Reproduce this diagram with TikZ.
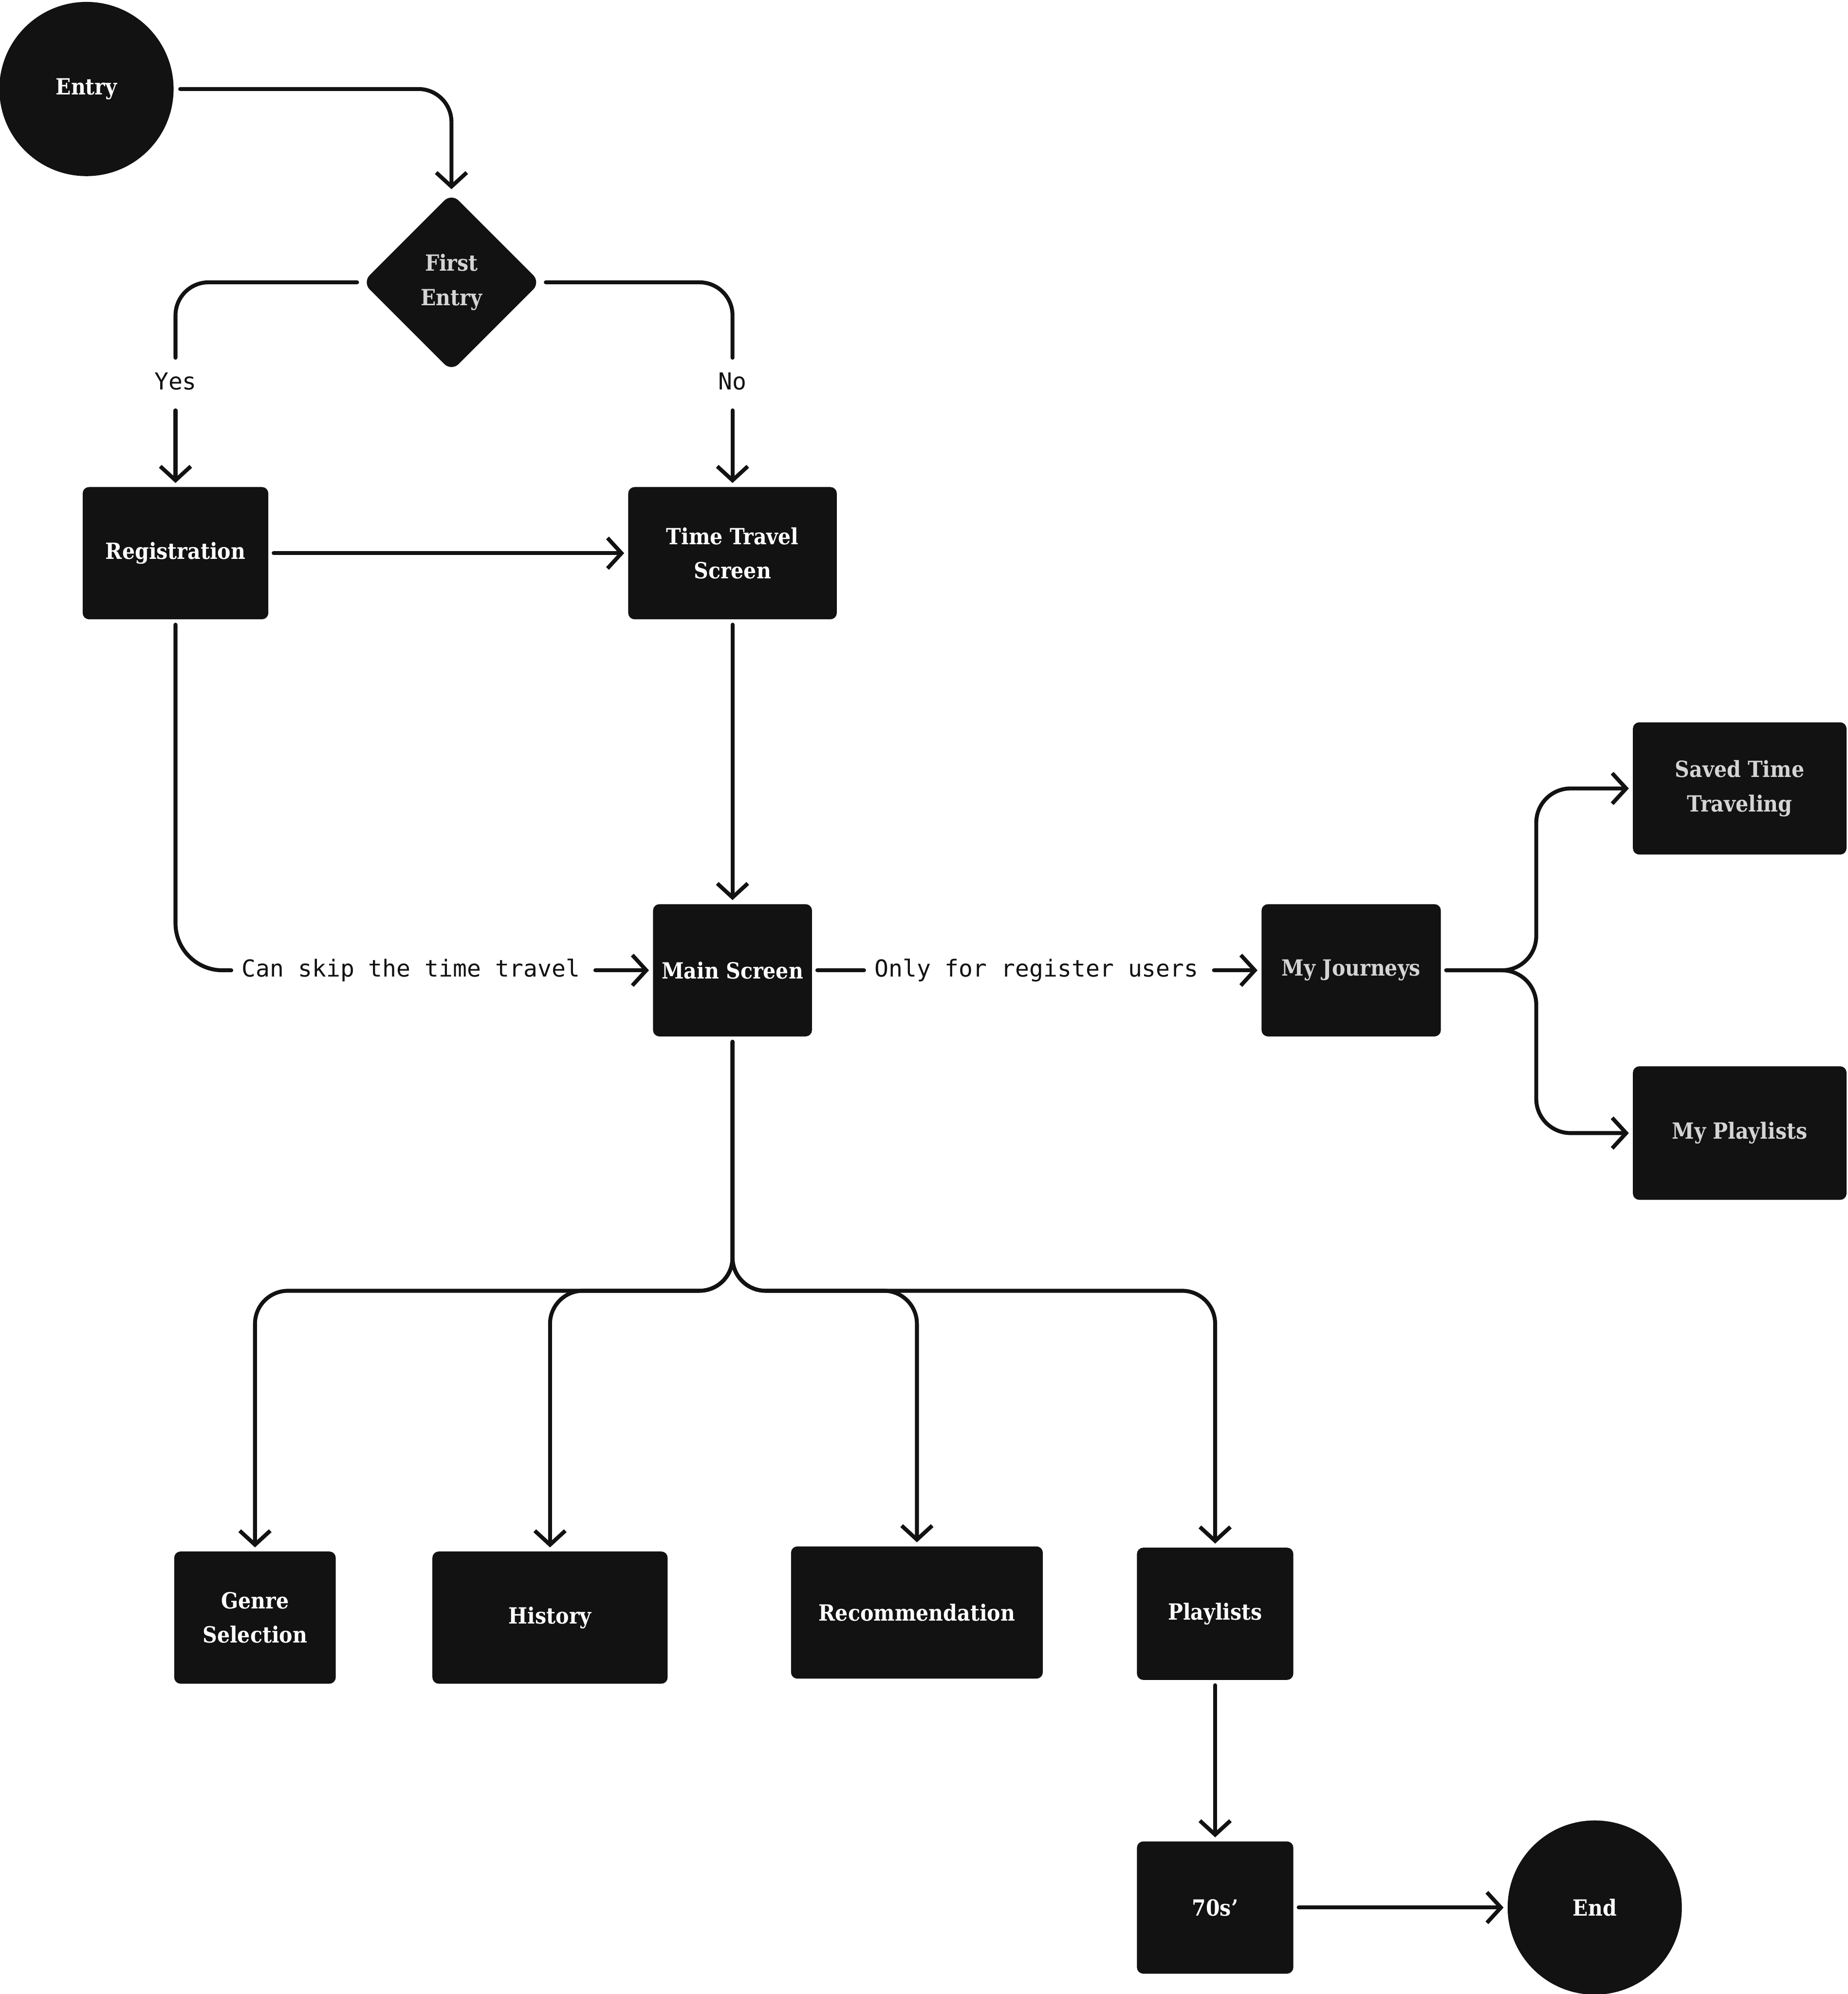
\documentclass[tikz,border=0pt]{standalone}
\usepackage{fontspec}
\usetikzlibrary{arrows.meta,shapes.geometric}
\newfontfamily\boxfont{DejaVu Serif Condensed}[BoldFont={DejaVu Serif Condensed Bold}]
\newfontfamily\lblfont{DejaVu Sans Mono}
\definecolor{boxfill}{HTML}{121212}
\definecolor{softtext}{HTML}{D4D4D4}
\tikzset{
  blk/.style={rectangle, rounded corners=5pt, fill=boxfill, text=white,
    font=\boxfont\bfseries\fontsize{17.5}{27}\selectfont, align=center,
    inner sep=0pt, minimum height=104pt},
  soft/.style={text=softtext},
  term/.style={circle, fill=boxfill, text=white, minimum size=137pt, inner sep=0pt,
    font=\boxfont\bfseries\fontsize{17.5}{27}\selectfont},
  dec/.style={diamond, fill=boxfill, rounded corners=8pt, minimum width=140pt,
    minimum height=140pt, inner sep=0pt, align=center,
    font=\boxfont\bfseries\fontsize{17.5}{27}\selectfont},
  lbl/.style={font=\lblfont\fontsize{18.4}{22}\selectfont, inner xsep=8pt, inner ysep=0pt, text=boxfill},
  vlbl/.style={lbl, minimum height=37pt},
  conn/.style={line width=3.1pt, draw=boxfill, line cap=round, line join=round, shorten <=4pt},
  arr/.style={conn, shorten >=3pt, -{Straight Barb[length=11pt,width=24pt]}},
}
\begin{document}
\begin{tikzpicture}[x=1pt,y=-1pt]
\useasboundingbox (0,0) rectangle (1453,1568);
% nodes
\node[term] (entry) at (68,70) {Entry};
\node[dec,soft] (first) at (355,222) {First\\Entry};
\node[blk, minimum width=146pt] (reg) at (138,435) {Registration};
\node[blk, minimum width=164pt] (tts) at (576,435) {Time Travel\\Screen};
\node[blk, minimum width=125pt] (ms) at (576,763) {Main Screen};
\node[blk, soft, minimum width=141pt] (mj) at (1062.5,763) {My Journeys};
\node[blk, soft, minimum width=168pt] (stt) at (1368,620) {Saved Time\\Traveling};
\node[blk, soft, minimum width=168pt, minimum height=105pt] (mp) at (1368,891) {My Playlists};
\node[blk, minimum width=127pt] (genre) at (200.5,1272) {Genre\\Selection};
\node[blk, minimum width=185pt] (hist) at (432.5,1272) {History};
\node[blk, minimum width=198pt] (rec) at (721,1268) {Recommendation};
\node[blk, minimum width=123pt] (pl) at (955.5,1269) {Playlists};
\node[blk, minimum width=123pt] (s70) at (955.5,1500) {70s’};
\node[term] (end) at (1254,1500) {End};
% labels
\node[vlbl] (yes) at (138,300) {Yes};
\node[vlbl] (no) at (576,300) {No};
\node[lbl] (skip) at (323,763) {Can skip the time travel};
\node[lbl] (only) at (815,763) {Only for register users};
\coordinate (jsplit) at (1208,763);
\coordinate (msplit) at (576,1015);
% connectors
\draw[arr, rounded corners=26pt, shorten <=5pt] (entry.east) -| (first.north);
\draw[conn, rounded corners=26pt] (first.west) -| (yes.north);
\draw[arr] (yes.south) -- (reg.north);
\draw[conn, rounded corners=26pt] (first.east) -| (no.north);
\draw[arr] (no.south) -- (tts.north);
\draw[arr] (reg) -- (tts);
\draw[conn, rounded corners=37pt] (reg.south) |- (skip.west);
\draw[arr] (skip.east) -- (ms.west);
\draw[arr] (tts) -- (ms);
\draw[conn] (ms.east) -- (only.west);
\draw[arr] (only.east) -- (mj.west);
\draw[arr, rounded corners=27pt] (mj.east) -- (jsplit) |- (stt.west);
\draw[arr, rounded corners=27pt] (mj.east) -- (jsplit) |- (mp.west);
\draw[arr, rounded corners=26pt] (ms.south) -- (msplit) -| (genre.north);
\draw[arr, rounded corners=26pt] (ms.south) -- (msplit) -| (hist.north);
\draw[arr, rounded corners=26pt] (ms.south) -- (msplit) -| (rec.north);
\draw[arr, rounded corners=26pt] (ms.south) -- (msplit) -| (pl.north);
\draw[arr] (pl) -- (s70);
\draw[arr] (s70) -- (end);
\end{tikzpicture}
\end{document}
